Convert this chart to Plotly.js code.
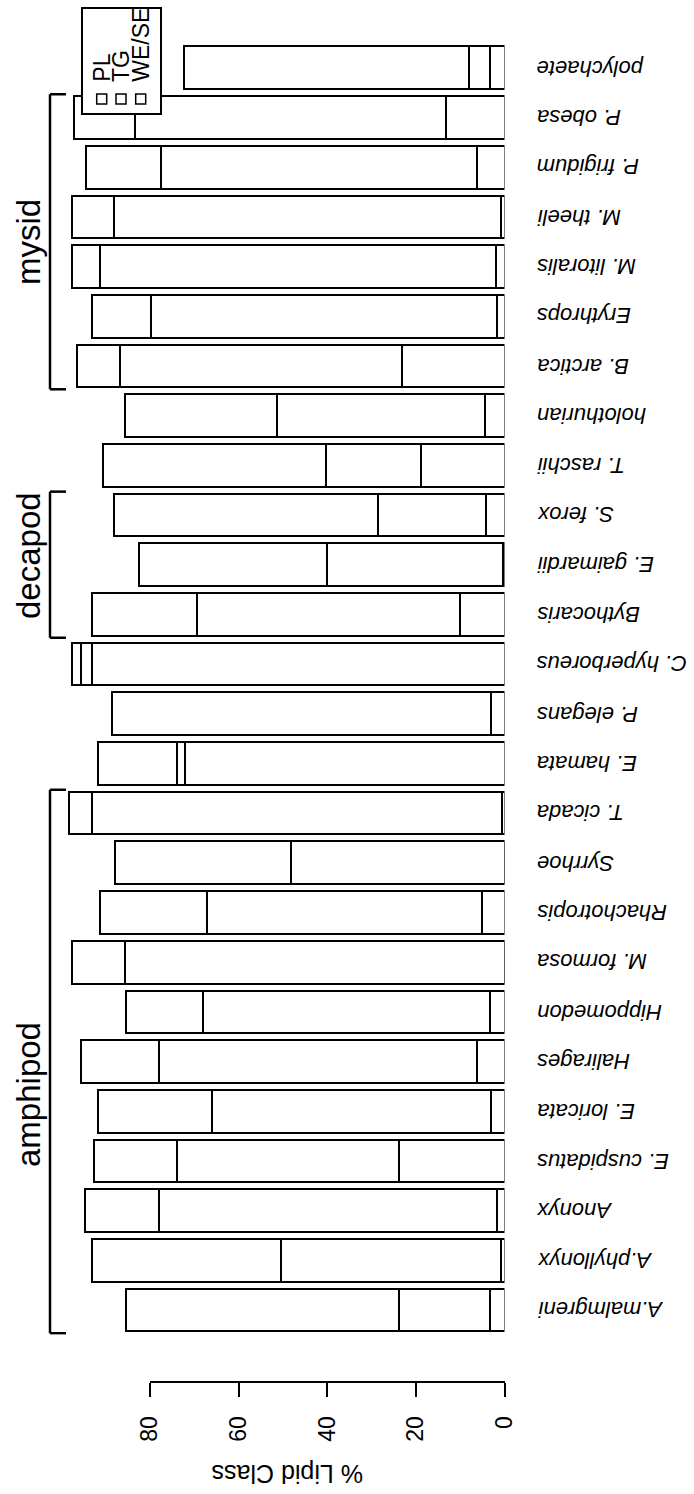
<!DOCTYPE html>
<html>
<head>
<meta charset="utf-8">
<script src="https://cdn.plot.ly/plotly-3.0.1.min.js"></script>
<style>
  html, body { margin: 0; padding: 0; background: #fff; }
  #chart { width: 694px; height: 1494px; }
</style>
</head>
<body>
<div id="chart"></div>
<script>
// species, bottom to top
const species = [
  "A.malmgreni", "A.phyllonyx", "Anonyx", "E. cuspidatus", "E. loricata",
  "Halirages", "Hippomedon", "M. formosa", "Rhachotropis", "Syrrhoe",
  "T. cicada", "E. hamata", "P. elegans", "C. hyperboreus", "Bythocaris",
  "E. gaimardii", "S. ferox", "T. raschii", "holothurian", "B. arctica",
  "Erythrops", "M. litoralis", "M. theeli", "P. frigidum", "P. obesa",
  "polychaete"
];

// % lipid class per species (same order)
const weSe = [3.3, 0.7, 1.7, 23.7, 3.0, 6.3, 3.3, 0, 5.0, 0, 0.5, 72.2, 3.0,
  93.2, 10.0, 0.3, 4.2, 18.8, 4.5, 23.2, 1.7, 2.0, 0.7, 6.2, 13.2, 3.2];
const tg = [20.5, 49.8, 76.3, 50.3, 63.0, 71.7, 64.7, 85.7, 62.2, 48.2, 92.7,
  1.8, 0, 2.3, 59.5, 39.8, 24.4, 21.5, 46.8, 63.5, 78.1, 89.2, 87.5, 71.3,
  70.3, 4.8];
const pl = [61.6, 42.5, 16.7, 18.7, 25.8, 17.5, 17.5, 12.0, 24.1, 39.6, 5.1,
  17.8, 85.6, 2.2, 23.7, 42.3, 59.6, 50.4, 34.4, 9.8, 13.4, 6.3, 9.3, 16.9,
  13.7, 64.3];

const classNames = ["PL", "TG", "WE/SE"];
const tickVals = [0, 20, 40, 60, 80];

// taxonomic groups: first and last species of each bracket
const groups = [
  { name: "amphipod", from: "A.malmgreni", to: "T. cicada", labelY: 1095 },
  { name: "decapod", from: "Bythocaris", to: "S. ferox", labelY: 556 },
  { name: "mysid", from: "B. arctica", to: "P. obesa", labelY: 242 },
];

const W = 694, H = 1494;
const px = (x) => x / W;          // pixel -> paper (x)
const py = (y) => (H - y) / H;    // pixel -> paper (y)

const FONT = "Liberation Sans, Arial, Helvetica, sans-serif";

function barTrace(name, values) {
  return {
    type: "bar",
    orientation: "h",
    name: name,
    x: values,
    y: species,
    marker: { color: "#ffffff", line: { color: "#000000", width: 2 } },
    showlegend: false,
    hoverinfo: "x+y+name",
  };
}

const traces = [
  barTrace("WE/SE", weSe),
  barTrace("TG", tg),
  barTrace("PL", pl),
  // empty trace so the scale axis (x2) is drawn
  { type: "scatter", x: [], y: [], xaxis: "x2", yaxis: "y", showlegend: false, hoverinfo: "skip" },
];

const shapes = [];
const annotations = [];

// species labels, upside down, right of the bars
species.forEach((s) => {
  annotations.push({
    text: s, x: px(535), xref: "paper", xanchor: "left",
    y: s, yref: "y", yanchor: "middle",
    textangle: 180, showarrow: false,
    font: { family: FONT, size: 22, style: "italic", color: "#000" },
  });
});

// group brackets and labels
groups.forEach((g) => {
  const lo = species.indexOf(g.from) - 0.47;
  const hi = species.indexOf(g.to) + 0.47;
  const line = { color: "#000", width: 2.5 };
  shapes.push({ type: "line", xref: "paper", yref: "y", x0: px(50), x1: px(50), y0: lo, y1: hi, line });
  shapes.push({ type: "line", xref: "paper", yref: "y", x0: px(50), x1: px(66), y0: lo, y1: lo, line });
  shapes.push({ type: "line", xref: "paper", yref: "y", x0: px(50), x1: px(66), y0: hi, y1: hi, line });
  annotations.push({
    text: g.name, x: px(28), xref: "paper", xanchor: "center",
    y: py(g.labelY), yref: "paper", yanchor: "middle",
    textangle: -90, showarrow: false,
    font: { family: FONT, size: 33, color: "#000" },
  });
});

// hand-made legend (rotated text)
shapes.push({
  type: "rect", xref: "paper", yref: "paper",
  x0: px(82), x1: px(161), y0: py(114), y1: py(8),
  line: { color: "#000", width: 2 }, fillcolor: "#fff", layer: "above",
});
const keyX = [101.7, 121, 140.7];
classNames.forEach((c, i) => {
  shapes.push({
    type: "rect", xref: "paper", yref: "paper",
    x0: px(keyX[i] - 5), x1: px(keyX[i] + 5), y0: py(104), y1: py(94),
    line: { color: "#000", width: 1.5 }, fillcolor: "#fff", layer: "above",
  });
  annotations.push({
    text: c, x: px(keyX[i]), xref: "paper", xanchor: "center",
    y: py(84), yref: "paper", yanchor: "bottom",
    textangle: -90, showarrow: false,
    font: { family: FONT, size: 23, color: "#000" },
  });
});

// axis title, upside down
annotations.push({
  text: "% Lipid Class", x: px(288), xref: "paper", xanchor: "center",
  y: py(1474), yref: "paper", yanchor: "middle",
  textangle: 180, showarrow: false,
  font: { family: FONT, size: 25, color: "#000" },
});

const layout = {
  width: W,
  height: H,
  margin: { l: 0, r: 0, t: 0, b: 0 },
  paper_bgcolor: "#fff",
  plot_bgcolor: "rgba(0,0,0,0)",
  barmode: "stack",
  bargap: 0.14,
  showlegend: false,
  xaxis: {
    domain: [px(40), px(504.5)],
    range: [104.83, 0],
    showline: false, showgrid: false, zeroline: false,
    showticklabels: false, ticks: "",
    fixedrange: true,
  },
  xaxis2: {
    domain: [px(150), px(504.5)],
    range: [80, 0],
    anchor: "free",
    position: py(1382),
    tickvals: tickVals,
    ticktext: tickVals.map(String),
    tickangle: -90,
    ticks: "outside", ticklen: 14, tickwidth: 2, tickcolor: "#000",
    ticklabelstandoff: 10,
    showline: true, linecolor: "#000", linewidth: 2,
    showgrid: false, zeroline: false,
    tickfont: { family: FONT, size: 23, color: "#000" },
    fixedrange: true,
  },
  yaxis: {
    domain: [py(1334.85), py(42.96)],
    type: "category",
    categoryorder: "array",
    categoryarray: species,
    range: [-0.5, species.length - 0.5],
    showline: false, showgrid: false, zeroline: false,
    showticklabels: false, ticks: "",
    fixedrange: true,
  },
  shapes: shapes,
  annotations: annotations,
};

Plotly.newPlot("chart", traces, layout, { displayModeBar: false, staticPlot: true });
</script>
</body>
</html>
